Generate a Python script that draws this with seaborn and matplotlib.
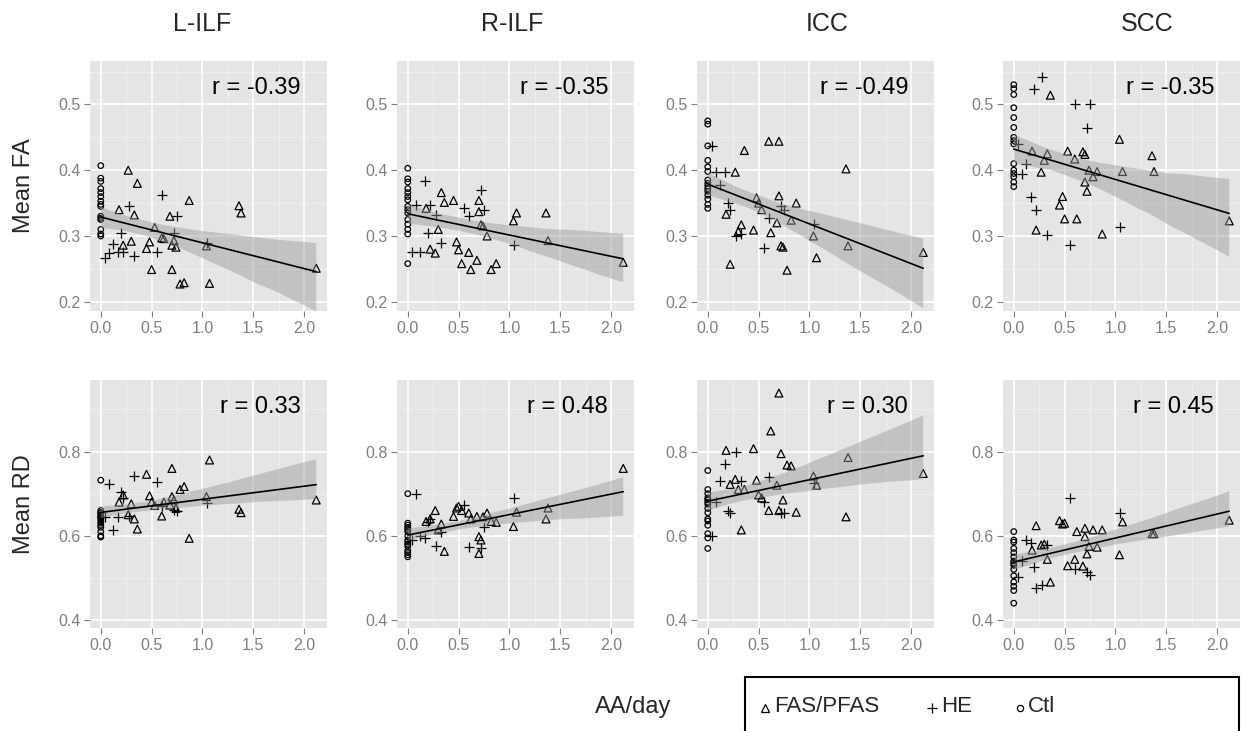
import numpy as np
import pandas as pd
import matplotlib
matplotlib.use("Agg")
import matplotlib.pyplot as plt
import seaborn as sns
from matplotlib.lines import Line2D
from matplotlib.patches import Rectangle

# ---- labels -------------------------------------------------------------
regions = ["L-ILF", "R-ILF", "ICC", "SCC"]
measures = ["Mean FA", "Mean RD"]
r_labels_fa = ["r = -0.39", "r = -0.35", "r = -0.49", "r = -0.35"]
r_labels_rd = ["r = 0.33", "r = 0.48", "r = 0.30", "r = 0.45"]
x_ticks = [0.0, 0.5, 1.0, 1.5, 2.0]
x_tick_labels = ["0.0", "0.5", "1.0", "1.5", "2.0"]
fa_ticks = [0.2, 0.3, 0.4, 0.5]
rd_ticks = [0.4, 0.6, 0.8]
groups = ["FAS/PFAS", "HE", "Ctl"]

# ---- alcohol exposure (AA/day) per subject group ------------------------
aa_fas = [0.18, 0.22, 0.27, 0.30, 0.33, 0.36, 0.45, 0.48, 0.50, 0.53, 0.60, 0.62, 0.68,
          0.70, 0.70, 0.72, 0.74, 0.78, 0.82, 0.87, 1.04, 1.07, 1.36, 1.38, 2.12]
aa_he = [0.04, 0.08, 0.12, 0.17, 0.20, 0.22, 0.28, 0.33, 0.55, 0.60, 0.72, 0.75, 1.05]
aa_ctl = [0.0] * 15

# ---- mean FA --------------------------------------------------------------
fa_lilf_fas = [0.340, 0.286, 0.400, 0.292, 0.332, 0.380, 0.281, 0.291, 0.249, 0.313, 0.297, 0.296, 0.330,
               0.249, 0.286, 0.293, 0.283, 0.227, 0.229, 0.354, 0.285, 0.228, 0.346, 0.335, 0.251]
fa_lilf_he = [0.266, 0.274, 0.288, 0.276, 0.305, 0.276, 0.345, 0.269, 0.275, 0.362, 0.304, 0.331, 0.289]
fa_lilf_ctl = [0.407, 0.388, 0.383, 0.372, 0.366, 0.360, 0.353, 0.348, 0.345, 0.330, 0.327, 0.325, 0.310, 0.303, 0.300]

fa_rilf_fas = [0.342, 0.280, 0.274, 0.310, 0.366, 0.351, 0.354, 0.291, 0.279, 0.258, 0.275, 0.249, 0.263,
               0.354, 0.337, 0.317, 0.315, 0.300, 0.249, 0.258, 0.323, 0.335, 0.335, 0.293, 0.260]
fa_rilf_he = [0.275, 0.347, 0.275, 0.383, 0.305, 0.347, 0.332, 0.290, 0.343, 0.330, 0.370, 0.340, 0.286]
fa_rilf_ctl = [0.403, 0.387, 0.382, 0.372, 0.366, 0.360, 0.355, 0.345, 0.340, 0.335, 0.325, 0.318, 0.310, 0.303, 0.258]

fa_icc_fas = [0.333, 0.257, 0.397, 0.307, 0.317, 0.430, 0.309, 0.358, 0.350, 0.340, 0.444, 0.305, 0.320,
              0.444, 0.361, 0.285, 0.283, 0.248, 0.324, 0.350, 0.300, 0.267, 0.402, 0.285, 0.275]
fa_icc_he = [0.437, 0.397, 0.378, 0.397, 0.350, 0.340, 0.300, 0.303, 0.282, 0.327, 0.345, 0.340, 0.318]
fa_icc_ctl = [0.475, 0.470, 0.437, 0.415, 0.405, 0.398, 0.385, 0.380, 0.376, 0.372, 0.368, 0.362, 0.356, 0.348, 0.342]

fa_scc_fas = [0.429, 0.309, 0.397, 0.415, 0.425, 0.514, 0.347, 0.360, 0.326, 0.429, 0.417, 0.326, 0.428,
              0.424, 0.382, 0.368, 0.400, 0.390, 0.398, 0.303, 0.447, 0.398, 0.422, 0.398, 0.323]
fa_scc_he = [0.440, 0.394, 0.410, 0.360, 0.524, 0.340, 0.541, 0.302, 0.286, 0.500, 0.464, 0.500, 0.313]
fa_scc_ctl = [0.530, 0.524, 0.515, 0.495, 0.480, 0.465, 0.450, 0.445, 0.440, 0.410, 0.400, 0.395, 0.390, 0.382, 0.375]

# ---- mean RD --------------------------------------------------------------
rd_lilf_fas = [0.680, 0.697, 0.650, 0.676, 0.640, 0.616, 0.746, 0.695, 0.680, 0.672, 0.647, 0.680, 0.673,
               0.760, 0.693, 0.685, 0.665, 0.710, 0.717, 0.594, 0.693, 0.780, 0.663, 0.655, 0.685]
rd_lilf_he = [0.645, 0.722, 0.614, 0.645, 0.703, 0.690, 0.646, 0.741, 0.727, 0.670, 0.662, 0.660, 0.679]
rd_lilf_ctl = [0.732, 0.660, 0.655, 0.655, 0.650, 0.645, 0.645, 0.640, 0.635, 0.630, 0.625, 0.620, 0.610, 0.600, 0.597]

rd_rilf_fas = [0.634, 0.640, 0.660, 0.614, 0.628, 0.563, 0.646, 0.666, 0.670, 0.660, 0.654, 0.640, 0.646,
               0.598, 0.558, 0.590, 0.645, 0.654, 0.634, 0.632, 0.622, 0.656, 0.640, 0.666, 0.760]
rd_rilf_he = [0.590, 0.700, 0.600, 0.594, 0.632, 0.640, 0.576, 0.610, 0.674, 0.573, 0.570, 0.620, 0.690]
rd_rilf_ctl = [0.700, 0.630, 0.625, 0.620, 0.615, 0.610, 0.600, 0.590, 0.585, 0.580, 0.575, 0.565, 0.560, 0.555, 0.550]

rd_icc_fas = [0.803, 0.722, 0.734, 0.710, 0.614, 0.710, 0.807, 0.732, 0.697, 0.690, 0.660, 0.849, 0.720,
              0.939, 0.660, 0.795, 0.685, 0.768, 0.766, 0.656, 0.742, 0.720, 0.645, 0.786, 0.748]
rd_icc_he = [0.600, 0.680, 0.730, 0.770, 0.660, 0.655, 0.800, 0.730, 0.680, 0.740, 0.655, 0.655, 0.725]
rd_icc_ctl = [0.755, 0.710, 0.700, 0.690, 0.685, 0.680, 0.675, 0.665, 0.655, 0.640, 0.635, 0.625, 0.605, 0.595, 0.570]

rd_scc_fas = [0.566, 0.624, 0.578, 0.580, 0.544, 0.490, 0.636, 0.628, 0.630, 0.529, 0.544, 0.610, 0.528,
              0.618, 0.598, 0.557, 0.575, 0.614, 0.573, 0.614, 0.555, 0.633, 0.605, 0.605, 0.637]
rd_scc_he = [0.502, 0.540, 0.590, 0.583, 0.526, 0.477, 0.483, 0.578, 0.690, 0.520, 0.515, 0.506, 0.653]
rd_scc_ctl = [0.610, 0.590, 0.585, 0.570, 0.560, 0.550, 0.540, 0.535, 0.530, 0.520, 0.505, 0.490, 0.480, 0.470, 0.440]

# ---- long table --------------------------------------------------------------
panel_values = {
    ("Mean FA", "L-ILF"): (fa_lilf_fas, fa_lilf_he, fa_lilf_ctl),
    ("Mean FA", "R-ILF"): (fa_rilf_fas, fa_rilf_he, fa_rilf_ctl),
    ("Mean FA", "ICC"): (fa_icc_fas, fa_icc_he, fa_icc_ctl),
    ("Mean FA", "SCC"): (fa_scc_fas, fa_scc_he, fa_scc_ctl),
    ("Mean RD", "L-ILF"): (rd_lilf_fas, rd_lilf_he, rd_lilf_ctl),
    ("Mean RD", "R-ILF"): (rd_rilf_fas, rd_rilf_he, rd_rilf_ctl),
    ("Mean RD", "ICC"): (rd_icc_fas, rd_icc_he, rd_icc_ctl),
    ("Mean RD", "SCC"): (rd_scc_fas, rd_scc_he, rd_scc_ctl),
}
group_x = {"FAS/PFAS": aa_fas, "HE": aa_he, "Ctl": aa_ctl}

rows = []
for (measure, region), vals in panel_values.items():
    for g, yv in zip(groups, vals):
        for xv, v in zip(group_x[g], yv):
            rows.append({"measure": measure, "region": region, "group": g, "aa": xv, "value": v})
df = pd.DataFrame(rows)

# ---- styling ----------------------------------------------------------------
sns.set_theme(style="white")
plt.rcParams["font.family"] = ["Liberation Sans", "DejaVu Sans"]

W, H = 1241, 731
fig = plt.figure(figsize=(W / 100, H / 100), dpi=100)
fig.patch.set_facecolor("white")

col_left = [90, 397, 697, 1003]
panel_w = 237
row_top = [61, 380]
row_bottom = [311, 628]
y_limits = [(0.186, 0.566), (0.381, 0.970)]
y_ticks_rows = [fa_ticks, rd_ticks]
y_minor_rows = [[0.25, 0.35, 0.45, 0.55], [0.5, 0.7, 0.9]]
r_rows = [r_labels_fa, r_labels_rd]

marker_style = {
    "FAS/PFAS": dict(marker="^", s=32, facecolors="none", edgecolors="black", linewidths=0.9),
    "HE": dict(marker="+", s=55, color="black", linewidths=0.9),
    "Ctl": dict(marker="o", s=16, facecolors="none", edgecolors="black", linewidths=0.9),
}

tick_grey = "#7f7f7f"

for ri, measure in enumerate(measures):
    for ci, region in enumerate(regions):
        h = row_bottom[ri] - row_top[ri]
        ax = fig.add_axes([col_left[ci] / W, 1 - row_bottom[ri] / H, panel_w / W, h / H])
        ax.set_facecolor("#e5e5e5")
        sub = df[(df.measure == measure) & (df.region == region)]

        for g in groups:
            gd = sub[sub.group == g]
            sns.scatterplot(x=gd["aa"].to_numpy(), y=gd["value"].to_numpy(), ax=ax,
                            legend=False, zorder=3, **marker_style[g])

        n_before = len(ax.collections)
        sns.regplot(x=sub["aa"].to_numpy(), y=sub["value"].to_numpy(), ax=ax, scatter=False,
                    ci=95, color="black", truncate=True,
                    line_kws=dict(linewidth=1.2, zorder=5))
        # confidence band in a mid grey, semi-transparent over the points
        for coll in ax.collections[n_before:]:
            coll.set_facecolor("#999999")
            coll.set_alpha(0.45)
            coll.set_edgecolor("none")
            coll.set_zorder(4)

        ax.set_xlim(-0.106, 2.226)
        ax.set_ylim(*y_limits[ri])
        ax.set_xticks(x_ticks)
        ax.set_xticklabels(x_tick_labels)
        ax.set_yticks(y_ticks_rows[ri])
        ax.set_yticklabels([f"{t:.1f}" for t in y_ticks_rows[ri]])
        ax.set_xticks([0.25, 0.75, 1.25, 1.75], minor=True)
        ax.set_yticks(y_minor_rows[ri], minor=True)
        ax.grid(which="major", color="white", linewidth=1.2)
        ax.grid(which="minor", color="#f2f2f2", linewidth=0.6)
        ax.set_axisbelow(True)
        for sp in ax.spines.values():
            sp.set_visible(False)
        ax.tick_params(which="major", length=4, width=0.8, color=tick_grey,
                       labelcolor=tick_grey, labelsize=11.5, pad=3,
                       bottom=True, left=True)
        ax.tick_params(which="minor", length=0)
        ax.set_xlabel("")
        ax.set_ylabel("")

        ax.text(1 - 26 / panel_w, 1 - 27 / h, r_rows[ri][ci], transform=ax.transAxes,
                ha="right", va="center", fontsize=17, color="black", zorder=6)

# column titles
title_x = [202, 512, 827, 1147]
for tx, name in zip(title_x, regions):
    fig.text(tx / W, 1 - 24 / H, name, ha="center", va="center", fontsize=18)

# row labels
fig.text(24 / W, 1 - 186 / H, "Mean FA", rotation=90, ha="center", va="center", fontsize=17)
fig.text(24 / W, 1 - 504 / H, "Mean RD", rotation=90, ha="center", va="center", fontsize=17)

# shared x label
fig.text(633 / W, 1 - 707 / H, "AA/day", ha="center", va="center", fontsize=17)

# legend box
fig.add_artist(Rectangle((745 / W, 1 - 745 / H), (1239 - 745) / W, (745 - 677) / H,
                         transform=fig.transFigure, fill=False, edgecolor="black",
                         linewidth=1.5, clip_on=False))
legend_items = [
    (765, 774, "^", 5.5, "FAS/PFAS"),
    (932, 941, "+", 7, "HE"),
    (1020, 1028, "o", 4.5, "Ctl"),
]
for mx, tx, mk, ms, lab in legend_items:
    fig.add_artist(Line2D([mx / W], [1 - 708 / H], marker=mk, markersize=ms,
                          markerfacecolor="none", markeredgecolor="black",
                          markeredgewidth=0.9, linestyle="none",
                          transform=fig.transFigure))
    fig.text(tx / W, 1 - 707 / H, lab, ha="left", va="center", fontsize=16)

fig.savefig("out.png", dpi=100, facecolor="white")
